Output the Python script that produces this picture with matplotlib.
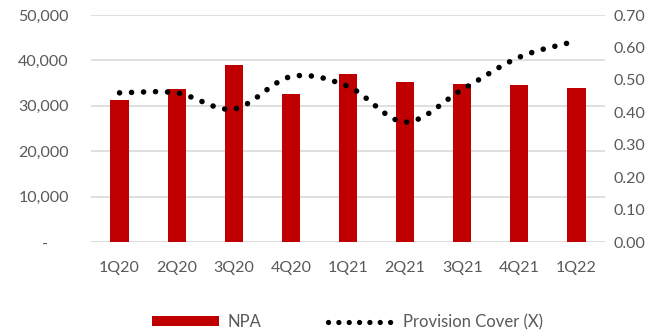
import matplotlib
matplotlib.use("Agg")
import matplotlib.pyplot as plt
from matplotlib.path import Path
from matplotlib.patches import PathPatch, Patch
from matplotlib.lines import Line2D
import numpy as np

quarters = ["1Q20", "2Q20", "3Q20", "4Q20", "1Q21", "2Q21", "3Q21", "4Q21", "1Q22"]
npa = [31300, 33600, 38900, 32700, 36900, 35300, 34700, 34500, 33900]
provision_cover = [0.46, 0.46, 0.41, 0.51, 0.48, 0.37, 0.47, 0.57, 0.62]

RED = "#C00000"
TEXT = "#595959"
GRID = "#D9D9D9"
FONT = "Lato"
FS = 11.5

plt.rcParams["font.family"] = [FONT, "DejaVu Sans"]

fig = plt.figure(figsize=(6.72, 3.35), dpi=100)
ax = fig.add_axes([0.1354, 0.2776, 0.7649, 0.6776])
ax2 = ax.twinx()

x = np.arange(len(quarters))
ax.bar(x, npa, width=0.32, color=RED, zorder=2)
ax.set_xlim(-0.5, len(quarters) - 0.5)
ax.set_ylim(0, 50000)
ax.set_yticks(np.arange(0, 50001, 10000))
ax.yaxis.set_major_formatter(
    matplotlib.ticker.FuncFormatter(lambda v, p: "-     " if v == 0 else f"{int(v):,}")
)
ax.set_xticks(x)
ax.set_xticklabels(quarters)
ax.grid(axis="y", color=GRID, linewidth=1.2, zorder=0)
ax.set_axisbelow(True)

ax2.set_ylim(0, 0.70)
ax2.set_yticks(np.arange(0, 0.701, 0.1))
ax2.yaxis.set_major_formatter(matplotlib.ticker.FormatStrFormatter("%.2f"))


def smooth_path(xs, ys):
    """Cubic Bezier path through the points (Catmull-Rom style tangents)."""
    pts = np.column_stack([xs, ys]).astype(float)
    n = len(pts)
    verts = [pts[0]]
    codes = [Path.MOVETO]
    for i in range(n - 1):
        p0 = pts[i - 1] if i > 0 else pts[i]
        p1 = pts[i]
        p2 = pts[i + 1]
        p3 = pts[i + 2] if i + 2 < n else pts[i + 1]
        c1 = p1 + (p2 - p0) / 6.0
        c2 = p2 - (p3 - p1) / 6.0
        verts += [c1, c2, p2]
        codes += [Path.CURVE4] * 3
    return Path(verts, codes)


curve = PathPatch(
    smooth_path(x, provision_cover),
    facecolor="none",
    edgecolor="black",
    linewidth=4.0,
    linestyle=(0, (0.01, 2.15)),
    capstyle="round",
    zorder=3,
)
ax2.add_patch(curve)

for a in (ax, ax2):
    for s in a.spines.values():
        s.set_visible(False)
    a.tick_params(length=0, labelsize=FS, colors=TEXT)

ax.tick_params(axis="y", pad=16)
ax.tick_params(axis="x", pad=14)
ax2.tick_params(axis="y", pad=6)

handles = [
    Patch(facecolor=RED, edgecolor="none"),
    Line2D([0], [0], color="black", linewidth=3.8, linestyle=(0, (0.01, 1.95)),
           dash_capstyle="round"),
]
fig.legend(
    handles,
    ["NPA", "Provision Cover (X)"],
    loc="center",
    bbox_to_anchor=(0.517, 1 - 322 / 335),
    ncol=2,
    frameon=False,
    fontsize=12,
    labelcolor=TEXT,
    handlelength=4.0,
    handleheight=0.5,
    handletextpad=0.5,
    columnspacing=4.0,
)

fig.savefig("out.png", dpi=100)
